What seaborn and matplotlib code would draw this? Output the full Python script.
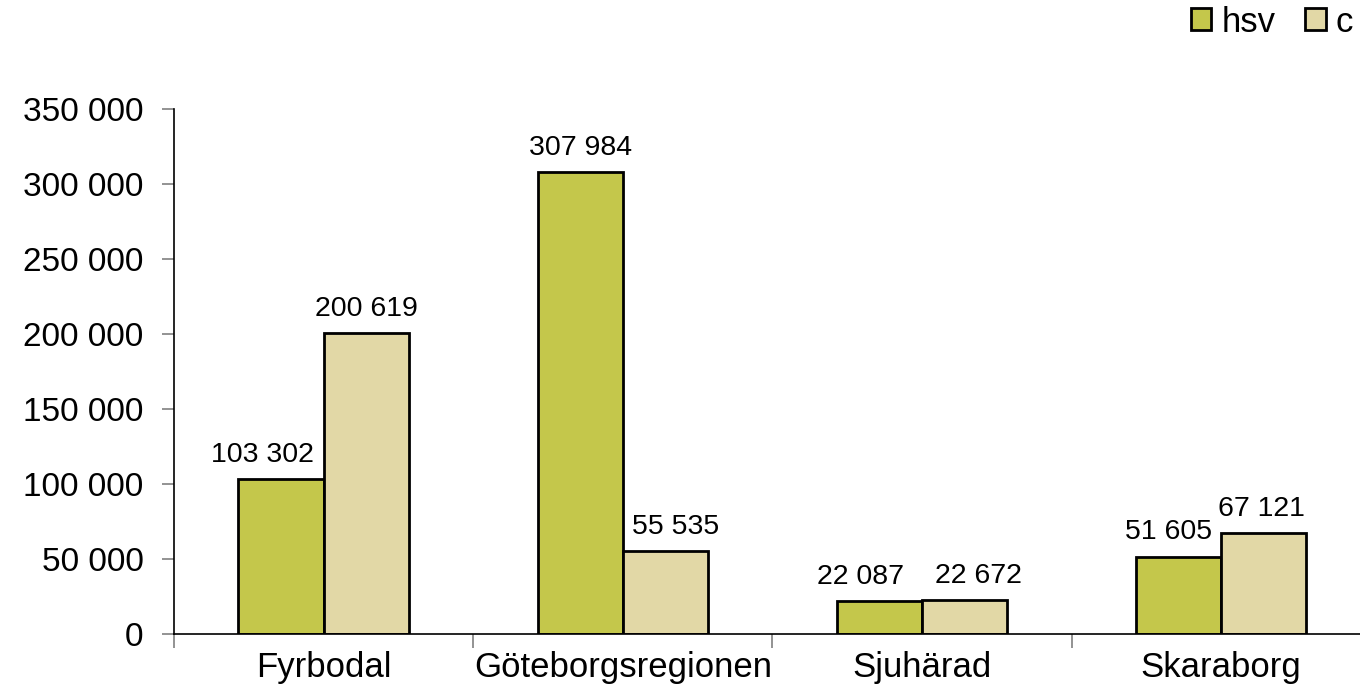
import pandas as pd
import matplotlib.pyplot as plt
import seaborn as sns
from matplotlib.ticker import FuncFormatter, FixedLocator

# Chart data
regions = ['Fyrbodal', 'Göteborgsregionen', 'Sjuhärad', 'Skaraborg']
hsv_values = [103302, 307984, 22087, 51605]
c_values = [200619, 55535, 22672, 67121]
series_names = ['hsv', 'c']
colors = ['#C4C74B', '#E2D8A6']
y_ticks = [0, 50000, 100000, 150000, 200000, 250000, 300000, 350000]

# horizontal nudges (px) of the value labels, so neighbours don't collide
label_shift = [[-19, 0, -19, -10], [0, 10, 14, -2]]

df = pd.DataFrame({
    'Region': regions * 2,
    'Serie': [series_names[0]] * len(regions) + [series_names[1]] * len(regions),
    'Value': hsv_values + c_values,
})

sns.set_style('white')
plt.rcParams['font.family'] = ['Liberation Sans', 'DejaVu Sans']
plt.rcParams['text.color'] = 'black'


def space_fmt(v, pos=None):
    return f"{int(round(v)):,}".replace(',', ' ')


fig = plt.figure(figsize=(13.6, 6.94), dpi=100)
ax = fig.add_axes([174 / 1360, 1 - 634 / 694, 1 - 174 / 1360, (634 - 109) / 694])

sns.barplot(data=df, x='Region', y='Value', hue='Serie', palette=colors,
            width=0.57, edgecolor='black', linewidth=2, saturation=1,
            ax=ax, legend=True)

for cont, shifts in zip(ax.containers, label_shift):
    for bar, dx in zip(cont, shifts):
        h = bar.get_height()
        ax.annotate(space_fmt(h), (bar.get_x() + bar.get_width() / 2, h),
                    xytext=(dx * 0.72, 8), textcoords='offset points',
                    ha='center', va='bottom', fontsize=20.5, color='black')

ax.set_ylim(0, 350000)
ax.set_xlim(-0.5, 3.464)
ax.set_yticks(y_ticks)
ax.yaxis.set_major_formatter(FuncFormatter(space_fmt))
ax.tick_params(axis='y', labelsize=24, length=9, width=1.2, color='grey',
               labelcolor='black', direction='out', left=True, pad=13)
ax.tick_params(axis='x', which='major', labelsize=25, length=0, pad=12,
               labelcolor='black')
ax.xaxis.set_minor_locator(FixedLocator([-0.5, 0.5, 1.5, 2.5, 3.5]))
ax.tick_params(axis='x', which='minor', length=10, width=1.2, color='grey',
               direction='out', bottom=True)
ax.set_xlabel('')
ax.set_ylabel('')
for s in ['top', 'right']:
    ax.spines[s].set_visible(False)
for s in ['left', 'bottom']:
    ax.spines[s].set_color('black')
    ax.spines[s].set_linewidth(1.2)

handles, labels = ax.get_legend_handles_labels()
ax.legend(handles, labels, loc='center right',
          bbox_to_anchor=(1 - 7 / 1360, 1 - 22 / 694),
          bbox_transform=fig.transFigure, ncol=2, frameon=False,
          fontsize=25, handlelength=0.58, handleheight=0.58,
          handletextpad=0.29, columnspacing=0.86, borderaxespad=0,
          borderpad=0)

fig.savefig('out.png', dpi=100)
